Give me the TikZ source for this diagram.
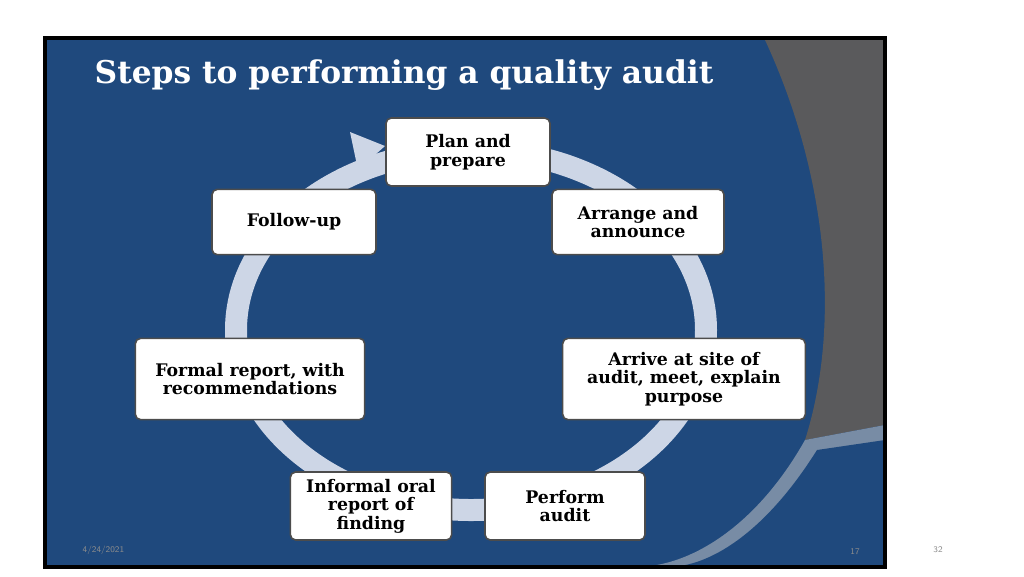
\documentclass[tikz,border=0pt]{standalone}
\usepackage{fontspec}
\setmainfont{DejaVu Serif}
\begin{document}
\begin{tikzpicture}[x=0.75pt,y=-0.75pt,
  stepbox/.style={draw=black!70,line width=1.2pt,fill=white,rounded corners=4pt,font=\bfseries\fontsize{13}{14}\selectfont,align=center,inner sep=2pt},
  foot/.style={text=black!45,font=\sffamily\fontsize{6.5}{7}\selectfont}]
\useasboundingbox (0,0) rectangle (1024,576);
\fill[white] (0,0) rectangle (1024,576);
\fill[color={rgb,255:red,31;green,73;blue,125}] (45,38) rectangle (885,567);
\fill[color={rgb,255:red,90;green,90;blue,92}] (765,40) .. controls (830,180) and (840,330) .. (805,440) -- (885,425) -- (885,40) -- cycle;
\fill[color={rgb,255:red,120;green,140;blue,165}] (805,440) .. controls (760,520) and (700,560) .. (650,566) -- (885,566) -- (885,425) -- cycle;
\fill[color={rgb,255:red,31;green,73;blue,125}] (817,450) .. controls (770,525) and (720,560) .. (680,566) -- (885,566) -- (885,440) -- cycle;
\draw[black,line width=2.5pt] (45,38) rectangle (885,567);
\node[anchor=west,text=white,font=\bfseries\fontsize{23.5}{26}\selectfont] (title) at (90,75) {Steps to performing a quality audit};
\draw[color={rgb,255:red,205;green,214;blue,230},line width=16.5pt] (471,330) ellipse [x radius=235, y radius=180];
\fill[color={rgb,255:red,205;green,214;blue,230}] (385,146) -- (350,132) -- (358,170) -- cycle;
\node[stepbox,minimum width=123pt,minimum height=51pt] (a) at (468,152) {Plan and\\prepare};
\node[stepbox,minimum width=129pt,minimum height=49pt] (b) at (638,222) {Arrange and\\announce};
\node[stepbox,minimum width=182pt,minimum height=61pt] (c) at (684,379) {Arrive at site of\\audit, meet, explain\\purpose};
\node[stepbox,minimum width=120pt,minimum height=51pt] (d) at (565,506) {Perform\\audit};
\node[stepbox,minimum width=121pt,minimum height=51pt] (e) at (371,506) {Informal oral\\report of\\finding};
\node[stepbox,minimum width=172pt,minimum height=61pt] (f) at (250,379) {Formal report, with\\recommendations};
\node[stepbox,minimum width=123pt,minimum height=49pt] (g) at (294,222) {Follow-up};
\node[foot,anchor=west] (dt) at (78,550) {4/24/2021};
\node[foot] (p1) at (855,552) {17};
\node[foot] (p2) at (938,550) {32};
\end{tikzpicture}
\end{document}
